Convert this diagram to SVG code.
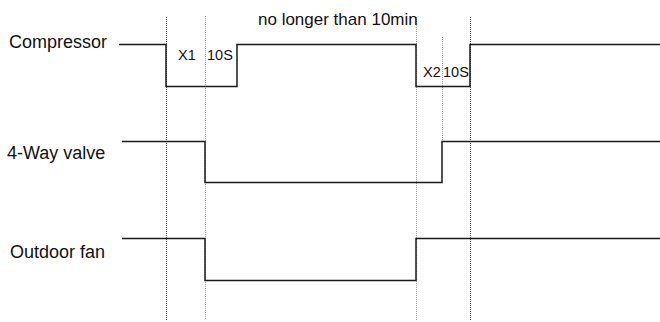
<svg xmlns="http://www.w3.org/2000/svg" width="660" height="322" viewBox="0 0 660 322">
<style>
.lbl{font-family:"Liberation Sans",Arial,sans-serif;font-size:18px;fill:#111}
.ttl{font-family:"Liberation Sans",Arial,sans-serif;font-size:17px;fill:#111}
.sm{font-family:"Liberation Sans",Arial,sans-serif;font-size:14.5px;fill:#111}
.sig{fill:none;stroke:#1a1a1a;stroke-width:1.5}
.g1{fill:none;stroke:#444;stroke-width:1;stroke-dasharray:1 1}
.g2{fill:none;stroke:#999;stroke-width:1;stroke-dasharray:1 1}
</style>
<rect width="660" height="322" fill="#fff"/>
<g id="guides">
<line class="g1" x1="166.5" y1="17" x2="166.5" y2="320"/>
<line class="g2" x1="205.5" y1="16" x2="205.5" y2="320"/>
<line class="g2" x1="416.5" y1="17" x2="416.5" y2="320"/>
<line class="g2" x1="442.5" y1="37" x2="442.5" y2="141"/>
<line class="g1" x1="470.5" y1="17" x2="470.5" y2="320"/>
</g>
<g id="compressor">
<text class="lbl" x="9" y="48">Compressor</text>
<polyline class="sig" points="119,44.5 166,44.5 166,86.5 237,86.5 237,44.5 416,44.5 416,86.5 470,86.5 470,44.5 660,44.5"/>
<text class="sm" x="178" y="60">X1</text>
<text class="sm" x="207" y="60">10S</text>
<text class="ttl" x="258" y="25">no longer than 10min</text>
<text class="sm" x="423" y="77">X2</text>
<text class="sm" x="443" y="77">10S</text>
</g>
<g id="four-way-valve">
<text class="lbl" x="7" y="159">4-Way valve</text>
<polyline class="sig" points="122,141.5 205,141.5 205,182.5 442,182.5 442,141.5 660,141.5"/>
</g>
<g id="outdoor-fan">
<text class="lbl" x="10" y="258">Outdoor fan</text>
<polyline class="sig" points="122,238.5 205,238.5 205,280.5 416,280.5 416,238.5 660,238.5"/>
</g>
</svg>
